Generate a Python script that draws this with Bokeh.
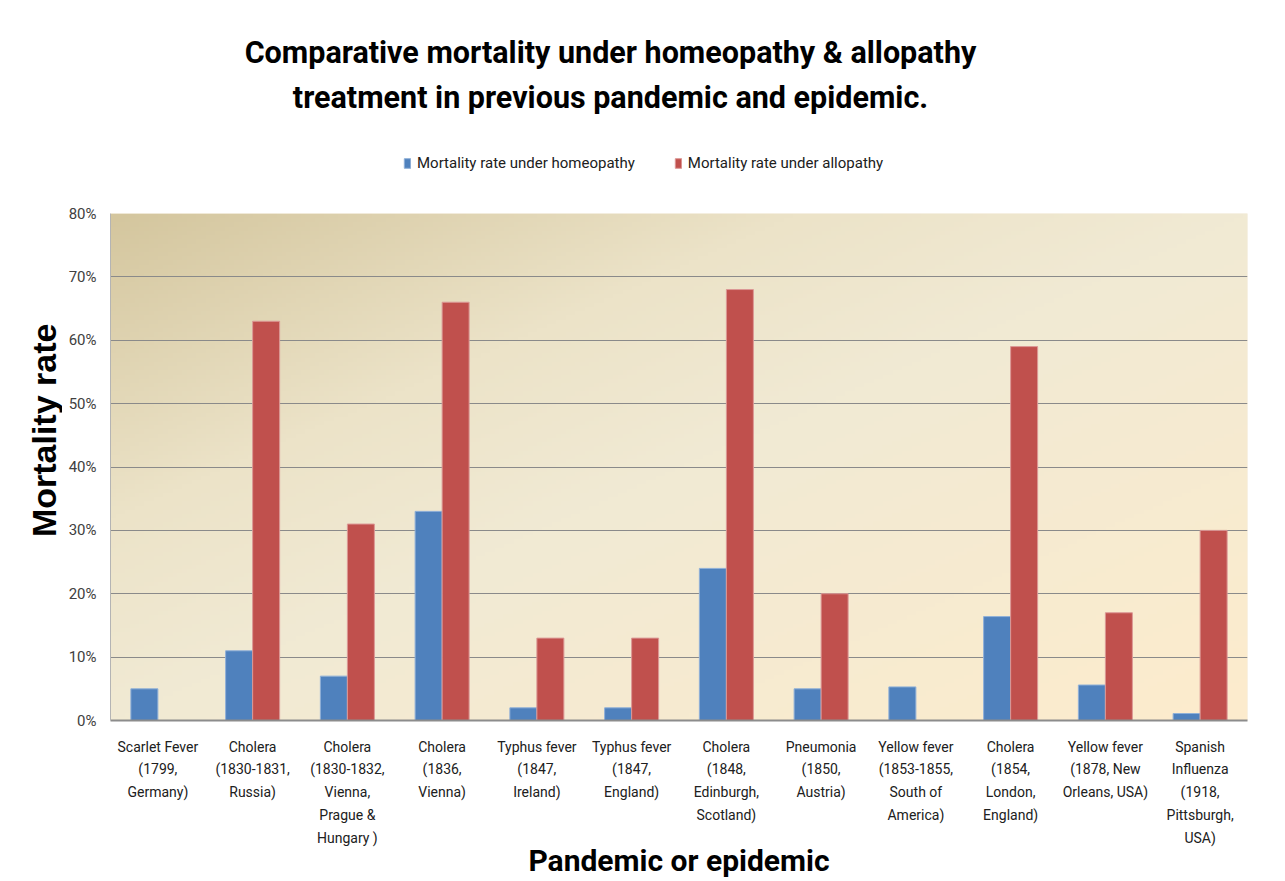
import numpy as np
from bokeh.plotting import figure
from bokeh.layouts import column, row
from bokeh.models import (ColumnDataSource, FactorRange, Range1d, Legend, LegendItem,
                          Label, PrintfTickFormatter, FixedTicker)
from bokeh.transform import dodge
from bokeh.embed import file_html
from bokeh.resources import INLINE

categories = [
    "Scarlet Fever\n(1799,\nGermany)",
    "Cholera\n(1830-1831,\nRussia)",
    "Cholera\n(1830-1832,\nVienna,\nPrague &\nHungary )",
    "Cholera\n(1836,\nVienna)",
    "Typhus fever\n(1847,\nIreland)",
    "Typhus fever\n(1847,\nEngland)",
    "Cholera\n(1848,\nEdinburgh,\nScotland)",
    "Pneumonia\n(1850,\nAustria)",
    "Yellow fever\n(1853-1855,\nSouth of\nAmerica)",
    "Cholera\n(1854,\nLondon,\nEngland)",
    "Yellow fever\n(1878, New\nOrleans, USA)",
    "Spanish\nInfluenza\n(1918,\nPittsburgh,\nUSA)",
]
homeopathy = [5, 11, 7, 33, 2, 2, 24, 5, 5.3, 16.4, 5.6, 1.1]
allopathy = [None, 63, 31, 66, 13, 13, 68, 20, None, 59, 17, 30]
y_ticks = [0, 10, 20, 30, 40, 50, 60, 70, 80]

title_lines = ["Comparative mortality under homeopathy & allopathy",
               "treatment in previous pandemic and epidemic."]
series_names = ["Mortality rate under homeopathy", "Mortality rate under allopathy"]
colors = ["#4f81bd", "#c0504d"]
edge_colors = ["#8fb0d8", "#dc9896"]

src = ColumnDataSource(dict(
    x=categories,
    homeo=np.array(homeopathy, dtype=float),
    allo=np.array([np.nan if v is None else v for v in allopathy], dtype=float),
))

FULL_W = 1280
TOP_H = 203
MAIN_H = 678
YLAB_W = 62


def bare(width, height):
    f = figure(width=width, height=height, x_range=Range1d(0, width),
               y_range=Range1d(0, height), title=None,
               min_border=0, x_axis_location=None, y_axis_location=None,
               output_backend="svg", toolbar_location=None,
               background_fill_color="white", border_fill_color="white")
    f.outline_line_color = None
    f.grid.visible = False
    return f


# ---------- header: title + legend ----------
top = bare(FULL_W, TOP_H)
for txt, py in zip(title_lines, [52, 97]):
    top.add_layout(Label(x=610, y=TOP_H - py, text=txt, text_align="center",
                         text_baseline="middle", text_font="Roboto",
                         text_font_style="bold", text_font_size="30.5px",
                         text_color="black"))
# hidden proxies so that the legend can draw its colour swatches
lg1 = top.vbar(x=[0], top=[0], width=0, fill_color=colors[0],
               line_color=edge_colors[0], visible=False)
lg2 = top.vbar(x=[0], top=[0], width=0, fill_color=colors[1],
               line_color=edge_colors[1], visible=False)
legend = Legend(items=[LegendItem(label=series_names[0], renderers=[lg1]),
                       LegendItem(label=series_names[1], renderers=[lg2])],
                orientation="horizontal", location=(403, TOP_H - 172),
                label_text_font="Roboto", label_text_font_size="15px",
                label_text_color="#202020", glyph_width=8, glyph_height=12,
                spacing=39, label_standoff=6, border_line_color=None,
                background_fill_alpha=0, margin=0, padding=0,
                inactive_fill_alpha=0)
top.add_layout(legend, "center")

# ---------- y axis title ----------
ylab = bare(YLAB_W, MAIN_H)
ylab.add_layout(Label(x=43, y=388, text="Mortality rate",
                      angle=np.pi / 2, text_align="center", text_baseline="middle",
                      text_font="Liberation Sans", text_font_style="bold",
                      text_font_size="34px", text_color="black"))

# ---------- main chart ----------
p = figure(x_range=FactorRange(*categories), y_range=Range1d(0, 80),
           width=FULL_W - YLAB_W, height=MAIN_H, title=None,
           min_border_left=110 - YLAB_W, min_border_right=33,
           min_border_top=10, min_border_bottom=0,
           output_backend="svg", toolbar_location=None,
           background_fill_color="#f3ead6", border_fill_color="white")
p.outline_line_color = None

# gradient plot-area background
H, W = 120, 240
rows = np.linspace(0, 1, H)[:, None]   # 0 bottom, 1 top
cols = np.linspace(0, 1, W)[None, :]
s = (cols + (1 - rows)) / 2.0
stops = np.array([0.0, 0.3, 0.5, 1.0])
cr = np.array([212, 236, 241, 253])
cg = np.array([198, 227, 234, 236])
cb = np.array([158, 200, 212, 205])
img = np.empty((H, W), dtype=np.uint32)
view = img.view(dtype=np.uint8).reshape((H, W, 4))
view[:, :, 0] = np.interp(s, stops, cr).astype(np.uint8)
view[:, :, 1] = np.interp(s, stops, cg).astype(np.uint8)
view[:, :, 2] = np.interp(s, stops, cb).astype(np.uint8)
view[:, :, 3] = 255
p.image_rgba(image=[img], x=0, y=0, dw=len(categories), dh=80, level="image")

w = 0.285
r1 = p.vbar(x=dodge("x", -w / 2, range=p.x_range), top="homeo", width=w, source=src,
            fill_color=colors[0], line_color=edge_colors[0], line_width=1)
r2 = p.vbar(x=dodge("x", w / 2, range=p.x_range), top="allo", width=w, source=src,
            fill_color=colors[1], line_color=edge_colors[1], line_width=1)

# grid
p.xgrid.grid_line_color = None
p.ygrid.ticker = FixedTicker(ticks=y_ticks)
p.ygrid.grid_line_color = "#8a8a8a"
p.ygrid.grid_line_width = 1
p.ygrid.level = "underlay"

# y axis
p.yaxis.ticker = FixedTicker(ticks=y_ticks)
p.yaxis.formatter = PrintfTickFormatter(format="%d%%")
p.yaxis.major_tick_line_color = None
p.yaxis.minor_tick_line_color = None
p.yaxis.axis_line_color = "#b4b4b4"
p.yaxis.major_label_text_font = "Roboto"
p.yaxis.major_label_text_font_size = "15px"
p.yaxis.major_label_text_color = "#404040"
p.yaxis.major_label_standoff = 8

# x axis
p.xaxis.major_tick_line_color = None
p.xaxis.minor_tick_line_color = None
p.xaxis.axis_line_color = "#8c8c8c"
p.xaxis.axis_line_width = 2
p.xaxis.major_label_text_font = "Roboto"
p.xaxis.major_label_text_font_size = "14px"
p.xaxis.major_label_text_color = "#202020"
p.xaxis.major_label_text_line_height = 1.43
p.xaxis.major_label_standoff = 12
p.xaxis.axis_label = "Pandemic or epidemic"
p.xaxis.axis_label_text_font = "Roboto"
p.xaxis.axis_label_text_font_style = "bold"
p.xaxis.axis_label_text_font_size = "30px"
p.xaxis.axis_label_text_color = "black"
p.xaxis.axis_label_standoff = -6

layout = column(top, row(ylab, p, spacing=0), spacing=0)
open("out.html", "w").write(file_html(layout, INLINE))
